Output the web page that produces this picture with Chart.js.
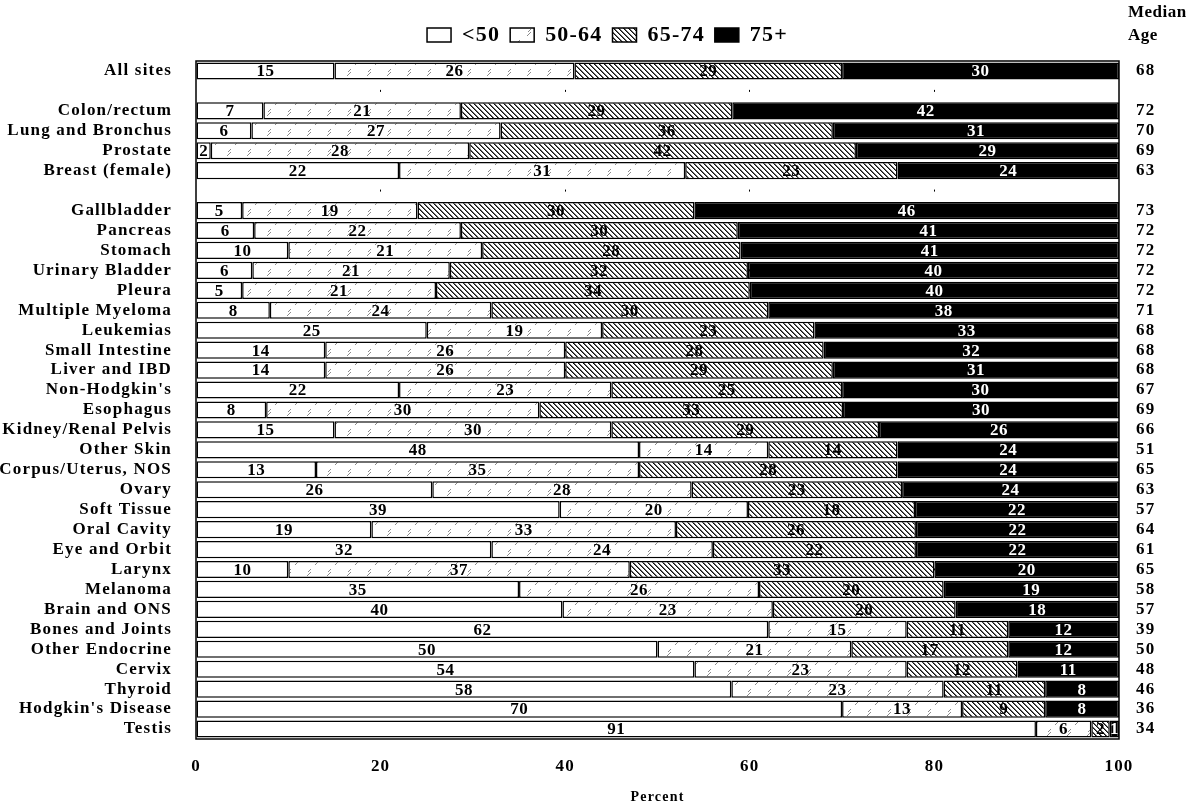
<!DOCTYPE html>
<html>
<head>
<meta charset="utf-8">
<title>Age distribution at diagnosis by site</title>
<script src="https://cdn.jsdelivr.net/npm/chart.js@4.4.1/dist/chart.umd.min.js"></script>
<style>
  body { margin: 0; background: #fff; }
  #wrap { width: 1203px; height: 809px; }
</style>
</head>
<body>
<div id="wrap"><canvas id="ageChart" width="1203" height="809"></canvas></div>
<script>
// Sites, top to bottom ('' = spacer row)
const sites = ['All sites', '', 'Colon/rectum', 'Lung and Bronchus', 'Prostate', 'Breast (female)', '',
  'Gallbladder', 'Pancreas', 'Stomach', 'Urinary Bladder', 'Pleura', 'Multiple Myeloma', 'Leukemias',
  'Small Intestine', 'Liver and IBD', "Non-Hodgkin's", 'Esophagus', 'Kidney/Renal Pelvis', 'Other Skin',
  'Corpus/Uterus, NOS', 'Ovary', 'Soft Tissue', 'Oral Cavity', 'Eye and Orbit', 'Larynx', 'Melanoma',
  'Brain and ONS', 'Bones and Joints', 'Other Endocrine', 'Cervix', 'Thyroid', "Hodgkin's Disease", 'Testis'];

const ageGroups = ['<50', '50-64', '65-74', '75+'];

// percent of cases in each age group
const under50   = [15, null, 7.3, 6, 1.6, 22, null, 5, 6.3, 10, 6.1, 5, 8, 25, 14, 14, 22, 7.6, 15, 48, 13, 25.6, 39.4, 19, 32, 10, 35, 39.7, 62, 50, 54, 58, 70, 91];
const age50to64 = [26, null, 21.4, 27, 28, 31, null, 19, 22.4, 21, 21.4, 21, 24, 19, 26, 26, 23, 29.6, 30, 14, 35, 28.1, 20.4, 33, 24, 37, 26, 22.8, 15, 21, 23, 23, 13, 6];
const age65to74 = [29, null, 29.4, 36, 41.9, 23, null, 30, 30, 28, 32.3, 34, 30, 23, 28, 29, 25, 32.9, 29, 14, 28, 22.8, 18.1, 26, 22, 33, 20, 19.8, 11, 17, 12, 11, 9, 2];
const age75plus = [30, null, 41.9, 31, 28.5, 24, null, 46, 41.3, 41, 40.2, 40, 38, 33, 32, 31, 30, 29.9, 26, 24, 24, 23.5, 22.1, 22, 22, 20, 19, 17.7, 12, 12, 11, 8, 8, 1];

const medianAge = ['68', '', '72', '70', '69', '63', '', '73', '72', '72', '72', '72', '71', '68', '68', '68', '67',
  '69', '66', '51', '65', '63', '57', '64', '61', '65', '58', '57', '39', '50', '48', '46', '36', '34'];

const SERIF = "'Liberation Serif', 'Times New Roman', serif";
const PAD_RIGHT = -12; // nudges the centred legend a little to the right

function makePattern(size, draw) {
    const c = document.createElement('canvas');
    c.width = c.height = size;
    const g = c.getContext('2d');
    g.fillStyle = '#fff';
    g.fillRect(0, 0, size, size);
    draw(g, size);
    return g.createPattern(c, 'repeat');
}

// light, broken "/" strokes
const sparseHatch = makePattern(20, (g, n) => {
    g.fillStyle = '#8c8c8c';
    [0, 1, 2, 3, 4, 9, 10, 11].forEach(t => g.fillRect(n - 1 - t, t, 1, 1));
    [12, 13, 14, 15].forEach(t => g.fillRect((n + 2 - t) % n, t, 1, 1));
});

// dense "\" lines
const denseHatch = makePattern(5, (g, n) => {
    for (let i = 0; i < n; i++) {
        g.fillStyle = '#111';
        g.fillRect(i, i, 1, 1);
        g.fillStyle = '#6a6a6a';
        g.fillRect((i + 1) % n, i, 1, 1);
    }
});

// wider letter spacing for the axis / legend text
const spacingPlugin = {
    id: 'spacing',
    beforeLayout(chart) { chart.ctx.letterSpacing = '1.2px'; },
    beforeDraw(chart) { chart.ctx.letterSpacing = '1.2px'; },
    beforeDatasetsDraw(chart) { chart.ctx.letterSpacing = '0px'; }
};

const barLabels = {
    id: 'barLabels',
    afterDatasetsDraw(chart) {
        const ctx = chart.ctx;
        const area = chart.chartArea;
        ctx.save();
        ctx.letterSpacing = '0.5px';
        ctx.font = 'bold 17px ' + SERIF;
        ctx.textAlign = 'center';
        ctx.textBaseline = 'middle';
        chart.data.datasets.forEach((ds, i) => {
            const meta = chart.getDatasetMeta(i);
            meta.data.forEach((bar, j) => {
                const v = ds.data[j];
                if (v === null || v === undefined) return;
                ctx.fillStyle = i === 3 ? '#fff' : '#000';
                ctx.fillText(String(Math.round(v)), (bar.x + bar.base) / 2, bar.y + 1);
            });
        });

        // frame round the plot
        ctx.lineWidth = 1.5;
        ctx.strokeStyle = '#000';
        ctx.strokeRect(area.left, area.top, area.right - area.left, area.bottom - area.top);

        // header over the median age column
        ctx.fillStyle = '#000';
        ctx.textAlign = 'left';
        ctx.font = 'bold 17px ' + SERIF;
        ctx.fillText('Median', area.right + 9, 13);
        ctx.fillText('Age', area.right + 9, 36);
        ctx.restore();
    }
};

const fills = ['#ffffff', sparseHatch, denseHatch, '#000000'];
const series = [under50, age50to64, age65to74, age75plus];

new Chart(document.getElementById('ageChart'), {
    type: 'bar',
    data: {
        labels: sites,
        datasets: series.map((values, i) => ({
            label: ageGroups[i],
            data: values,
            backgroundColor: fills[i],
            borderColor: '#000',
            borderWidth: 1.5,
            borderSkipped: false,
            barPercentage: 0.86,
            categoryPercentage: 1
        }))
    },
    options: {
        indexAxis: 'y',
        responsive: false,
        animation: false,
        layout: { padding: { top: 14, right: PAD_RIGHT } },
        plugins: {
            legend: {
                position: 'top',
                labels: {
                    boxWidth: 24,
                    boxHeight: 14,
                    padding: 10,
                    color: '#000',
                    font: { family: SERIF, size: 22, weight: 'bold' }
                }
            },
            tooltip: { enabled: false }
        },
        scales: {
            x: {
                stacked: true,
                min: 0,
                max: 100,
                ticks: {
                    stepSize: 20,
                    padding: 17,
                    color: '#000',
                    font: { family: SERIF, size: 17, weight: 'bold' }
                },
                grid: {
                    drawTicks: false,
                    color: c => (c.tick && c.tick.value > 0 && c.tick.value < 100) ? '#000' : 'rgba(0,0,0,0)'
                },
                border: { display: false, dash: [2, 17.94], dashOffset: 11 },
                title: {
                    display: true,
                    text: 'Percent',
                    color: '#000',
                    font: { family: SERIF, size: 14, weight: 'bold' },
                    padding: { top: 0, bottom: 3 }
                },
                afterFit: s => { s.height = 70; }
            },
            // empty top axis, only a little room under the legend
            xTop: {
                type: 'linear',
                axis: 'x',
                position: 'top',
                min: 0,
                max: 100,
                ticks: { display: false },
                grid: { display: false },
                border: { display: false },
                afterFit: s => { s.height = 5; }
            },
            y: {
                stacked: true,
                ticks: {
                    autoSkip: false,
                    padding: 16,
                    color: '#000',
                    font: { family: SERIF, size: 17, weight: 'bold' }
                },
                grid: { display: false },
                border: { display: false },
                afterFit: s => { s.width = 196; }
            },
            y2: {
                type: 'category',
                labels: medianAge,
                position: 'right',
                offset: true,
                ticks: {
                    autoSkip: false,
                    padding: 9,
                    color: '#000',
                    font: { family: SERIF, size: 17, weight: 'bold' }
                },
                grid: { display: false },
                border: { display: false },
                afterFit: s => { s.width = 84 - PAD_RIGHT; }
            }
        }
    },
    plugins: [spacingPlugin, barLabels]
});
</script>
</body>
</html>
